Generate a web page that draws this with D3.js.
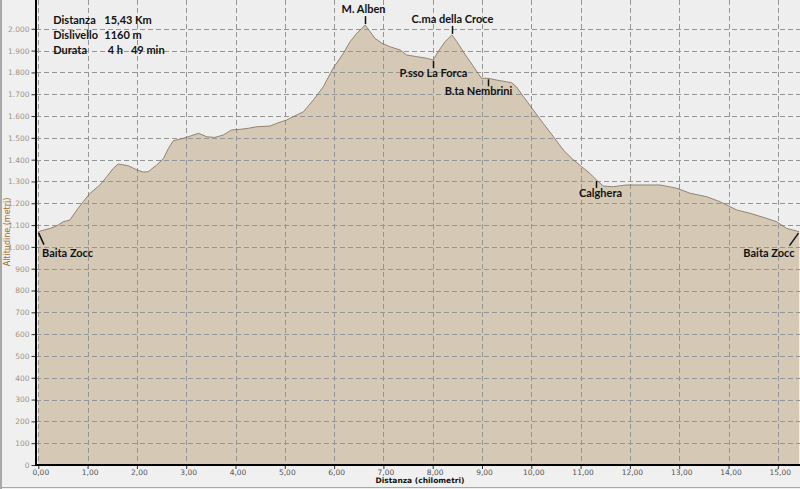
<!DOCTYPE html>
<html><head><meta charset="utf-8">
<script src="https://cdn.jsdelivr.net/npm/d3@7"></script>
<style>html,body{margin:0;padding:0;background:#f0f0f0;}svg{display:block;}</style>
</head><body>
<svg id="c" width="800" height="489"></svg>
<script>
const distKm = [0.00,0.24,0.37,0.51,0.64,0.78,0.91,1.05,1.25,1.39,1.52,1.62,1.83,2.00,2.13,2.23,2.40,2.54,2.64,2.74,2.94,3.08,3.25,3.42,3.58,3.75,3.92,4.09,4.26,4.43,4.70,4.84,5.04,5.17,5.38,5.58,5.78,5.98,6.19,6.32,6.46,6.56,6.63,6.73,6.83,6.97,7.13,7.34,7.47,7.68,7.88,8.01,8.11,8.25,8.39,8.49,8.62,8.76,8.92,8.99,9.13,9.30,9.50,9.60,9.70,9.84,10.04,10.24,10.45,10.65,10.82,11.02,11.19,11.32,11.46,11.66,11.93,12.20,12.61,12.95,13.22,13.56,13.83,14.17,14.44,14.77,14.97,15.18,15.43];
const altitude = [1070,1085,1096,1116,1123,1169,1207,1246,1284,1322,1360,1380,1372,1353,1343,1345,1375,1406,1452,1487,1498,1508,1521,1505,1502,1513,1536,1539,1544,1551,1554,1567,1582,1597,1620,1674,1734,1819,1888,1940,1979,2002,2017,1987,1956,1934,1918,1903,1880,1872,1865,1857,1895,1941,1972,1941,1895,1849,1796,1773,1773,1765,1757,1753,1734,1689,1628,1567,1505,1444,1406,1368,1337,1307,1279,1276,1284,1284,1284,1269,1246,1230,1207,1169,1154,1131,1116,1085,1070];
const xTicks = [0,1,2,3,4,5,6,7,8,9,10,11,12,13,14,15];
const yTicks = [0,100,200,300,400,500,600,700,800,900,1000,1100,1200,1300,1400,1500,1600,1700,1800,1900,2000];
const waypointNames = ["Baita Zocc","M. Alben","P.sso La Forca","C.ma della Croce","B.ta Nembrini","Calghera","Baita Zocc"];
const waypointKm = [0.00,6.63,8.01,8.39,9.13,11.32,15.43];
const infoLabels = ["Distanza","Dislivello","Durata"];
const infoValues = ["15,43 Km","1160 m","4 h   49 min"];
const xTitle = "Distanza (chilometri)";
const yTitle = "Altitudine (metri)";

const svg = d3.select("#c");
const W = 800, H = 489;
const x = d3.scaleLinear().domain([0, 15.43]).range([38.3, 799]);
const y = d3.scaleLinear().domain([0, 2000]).range([465, 28.8]);
const loc = d3.formatLocale({decimal: ",", thousands: ".", grouping: [3], currency: ["", ""]});
const fy = loc.format(",");
const fx = loc.format(".2f");

// backgrounds
svg.append("rect").attr("x",0).attr("y",0).attr("width",W).attr("height",H).attr("fill","#f0f0f0");
svg.append("rect").attr("x",36).attr("y",0).attr("width",W-36).attr("height",465).attr("fill","#eeeeee");

const pts = distKm.map((d,i)=>({d, a: altitude[i]}));
const area = d3.area().x(p=>x(p.d)).y0(y(0)).y1(p=>y(p.a));
const line = d3.line().x(p=>x(p.d)).y(p=>y(p.a));
svg.append("path").datum(pts).attr("d", area).attr("fill","#d5c9b6");

// grid (built as a single path of dashed segments)
let gridD = "";
xTicks.forEach(d=>{ const gx0 = Math.round(x(d))+0.5; gridD += `M${gx0},0V465`; });
yTicks.filter(d=>d>0).forEach(d=>{ const gy0 = Math.round(y(d))+0.5; gridD += `M36,${gy0}H${W}`; });
svg.append("path").attr("d", gridD).attr("fill","none")
  .style("stroke","#959595").style("stroke-width","1px").style("stroke-dasharray","5px 3px");

svg.append("path").datum(pts).attr("d", line).attr("fill","none").attr("stroke","#7d6d55").attr("stroke-width",0.8);

// axes
const yAxis = d3.axisLeft(y).tickValues(yTicks).tickFormat(fy).tickSize(4).tickPadding(2);
const gy = svg.append("g").attr("transform","translate(35.5,0)").call(yAxis);
gy.select(".domain").remove();
gy.selectAll(".tick line").attr("stroke","#333");
gy.selectAll(".tick text").attr("fill","#a09484").attr("font-family","'DejaVu Sans', sans-serif").attr("font-size",7.5);

const xAxis = d3.axisBottom(x).tickValues(xTicks).tickFormat(fx).tickSize(4).tickPadding(1);
const gx = svg.append("g").attr("transform","translate(0,465)").call(xAxis);
gx.select(".domain").remove();
gx.selectAll(".tick line").attr("stroke","#333");
gx.selectAll(".tick text").attr("fill","#555").attr("font-family","'DejaVu Sans', sans-serif").attr("font-size",7.5).attr("dx",2);

svg.append("line").attr("x1",36).attr("x2",36).attr("y1",0).attr("y2",466).attr("stroke","#000").attr("stroke-width",2);
svg.append("line").attr("x1",35).attr("x2",W).attr("y1",465).attr("y2",465).attr("stroke","#000").attr("stroke-width",2);

// outer border
svg.append("line").attr("x1",1).attr("x2",1).attr("y1",0).attr("y2",H).attr("stroke","#a8a8a8").attr("stroke-width",2);
svg.append("line").attr("x1",0).attr("x2",W).attr("y1",487.5).attr("y2",487.5).attr("stroke","#a8a8a8").attr("stroke-width",1);

// titles
svg.append("text").attr("x",420).attr("y",483).attr("text-anchor","middle")
  .attr("font-family","'DejaVu Sans', sans-serif").attr("font-size",7.5).attr("font-weight","bold").attr("fill","#111").text(xTitle);
svg.append("text").attr("transform","translate(10,232) rotate(-90)").attr("text-anchor","middle")
  .attr("font-family","'DejaVu Sans', sans-serif").attr("font-size",8).attr("fill","#a06c1c").text(yTitle);

// info block
const font = "Lato, 'Open Sans', sans-serif";
const info = svg.append("g").attr("font-family",font).attr("font-weight","bold").attr("font-size",11).attr("fill","#111");
const valX = [104.3,104.3,107.7];
infoLabels.forEach((t,i)=>{
  info.append("text").attr("x",53.3).attr("y",23.5+i*15).text(t);
  info.append("text").attr("x",valX[i]).attr("y",23.5+i*15).attr("xml:space","preserve").style("white-space","pre").text(infoValues[i]);
});

// waypoints
function altAt(k){
  const i = d3.bisectLeft(distKm,k);
  if(i<=0) return altitude[0];
  if(i>=distKm.length) return altitude[altitude.length-1];
  const t=(k-distKm[i-1])/(distKm[i]-distKm[i-1]);
  return altitude[i-1]+t*(altitude[i]-altitude[i-1]);
}
const place = ["slashR","above","below","above","below","below","slashL"];
const textDx = [0,-2,0,0,-10,4,0];
const wp = svg.append("g").attr("font-family",font).attr("font-weight","bold").attr("font-size",11).attr("fill","#111");
waypointNames.forEach((n,i)=>{
  const px = Math.round(x(waypointKm[i]))+0.5, py = y(altAt(waypointKm[i]));
  const k = place[i];
  if(k==="above"){
    wp.append("line").attr("x1",px).attr("x2",px).attr("y1",py-9).attr("y2",py-1).attr("stroke","#111").attr("stroke-width",1.5);
    wp.append("text").attr("x",px+textDx[i]).attr("y",py-12).attr("text-anchor","middle").text(n);
  } else if(k==="below"){
    wp.append("line").attr("x1",px).attr("x2",px).attr("y1",py+1).attr("y2",py+8).attr("stroke","#111").attr("stroke-width",1.5);
    wp.append("text").attr("x",px+textDx[i]).attr("y",py+17).attr("text-anchor","middle").text(n);
  } else if(k==="slashR"){
    wp.append("line").attr("x1",px).attr("x2",px+5.5).attr("y1",py+1).attr("y2",py+13).attr("stroke","#111").attr("stroke-width",1.5);
    wp.append("text").attr("x",px+3.5).attr("y",py+25.5).text(n);
  } else {
    wp.append("line").attr("x1",px-1).attr("x2",px-10).attr("y1",py+1.5).attr("y2",py+14).attr("stroke","#111").attr("stroke-width",1.5);
    wp.append("text").attr("x",px-5).attr("y",py+25).attr("text-anchor","end").text(n);
  }
});
</script>
</body></html>
